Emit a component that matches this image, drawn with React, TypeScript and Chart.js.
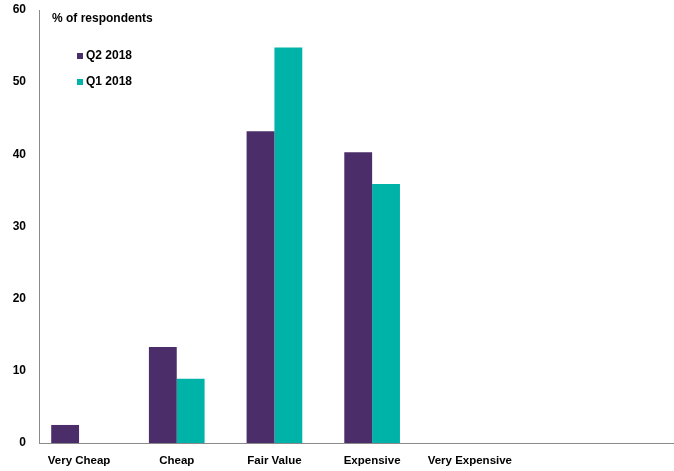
import React, { useEffect, useRef } from "react";
import { Chart, registerables } from "chart.js";

Chart.register(...registerables);

const categories = ["Very Cheap", "Cheap", "Fair Value", "Expensive", "Very Expensive"];
const q2_2018 = [2.5, 13.3, 43.2, 40.3, 0];
const q1_2018 = [0, 8.9, 54.8, 35.9, 0];
const yTicks = [0, 10, 20, 30, 40, 50, 60];
const seriesNames = ["Q2 2018", "Q1 2018"];
const seriesColors = ["#4B2E69", "#00B3A9"];
const yTitle = "% of respondents";

const FONT = "'Liberation Sans', Arial, sans-serif";

const overlayPlugin = {
  id: "overlay",
  afterDraw(chart: any) {
    const ctx = chart.ctx;
    ctx.save();
    ctx.fillStyle = "#000";
    ctx.textBaseline = "middle";
    ctx.textAlign = "left";
    ctx.font = `bold 12px ${FONT}`;
    ctx.fillText(yTitle, 52, 19);
    seriesNames.forEach((name, i) => {
      const y = 56 + i * 26;
      ctx.fillStyle = seriesColors[i];
      ctx.fillRect(77, y - 3, 6, 6);
      ctx.fillStyle = "#000";
      ctx.font = `bold 12px ${FONT}`;
      ctx.fillText(name, 86, y);
    });
    ctx.restore();
  },
};

export default function App() {
  const ref = useRef<HTMLCanvasElement>(null);
  useEffect(() => {
    if (!ref.current) return;
    const chart = new Chart(ref.current, {
      type: "bar",
      data: {
        datasets: [
          {
            label: seriesNames[0],
            data: q2_2018.map((v, i) => ({ x: i, y: v })),
            backgroundColor: seriesColors[0],
          },
          {
            label: seriesNames[1],
            data: q1_2018.map((v, i) => ({ x: i, y: v })),
            backgroundColor: seriesColors[1],
          },
        ],
      },
      options: {
        responsive: false,
        animation: false,
        layout: { padding: { left: 0, right: 0, top: 10, bottom: 0 } },
        plugins: { legend: { display: false }, tooltip: { enabled: false } },
        datasets: { bar: { barPercentage: 1, categoryPercentage: 0.57 } } as any,
        scales: {
          x: {
            type: "linear",
            offset: false,
            min: -0.41,
            max: 6.09,
            grid: { display: false, drawTicks: false, offset: false },
            border: { color: "#8a8a8a", width: 1 },
            afterBuildTicks: (s: any) => {
              s.ticks = categories.map((_, i) => ({ value: i }));
            },
            afterFit: (s: any) => {
              s.height = 28;
              s.paddingLeft = 0;
              s.paddingRight = 0;
            },
            ticks: {
              padding: 11,
              color: "#000",
              font: { family: FONT, weight: "bold", size: 11.5 },
              maxRotation: 0,
              autoSkip: false,
              callback: (v: any) => categories[v] ?? "",
            },
          },
          y: {
            min: 0,
            max: 60,
            grid: { display: false, drawTicks: false },
            border: { color: "#8a8a8a", width: 1 },
            afterBuildTicks: (s: any) => {
              s.ticks = yTicks.map((v) => ({ value: v }));
            },
            afterFit: (s: any) => {
              s.width = 39;
              s.paddingTop = 0;
              s.paddingBottom = 0;
            },
            ticks: {
              padding: 13,
              color: "#000",
              font: { family: FONT, weight: "bold", size: 12 },
            },
          },
        },
      },
      plugins: [overlayPlugin],
    });
    return () => chart.destroy();
  }, []);
  return (
    <div style={{ position: "fixed", left: 0, top: 0, width: 674, height: 471, background: "#fff" }}>
      <canvas ref={ref} width={674} height={471} />
    </div>
  );
}
